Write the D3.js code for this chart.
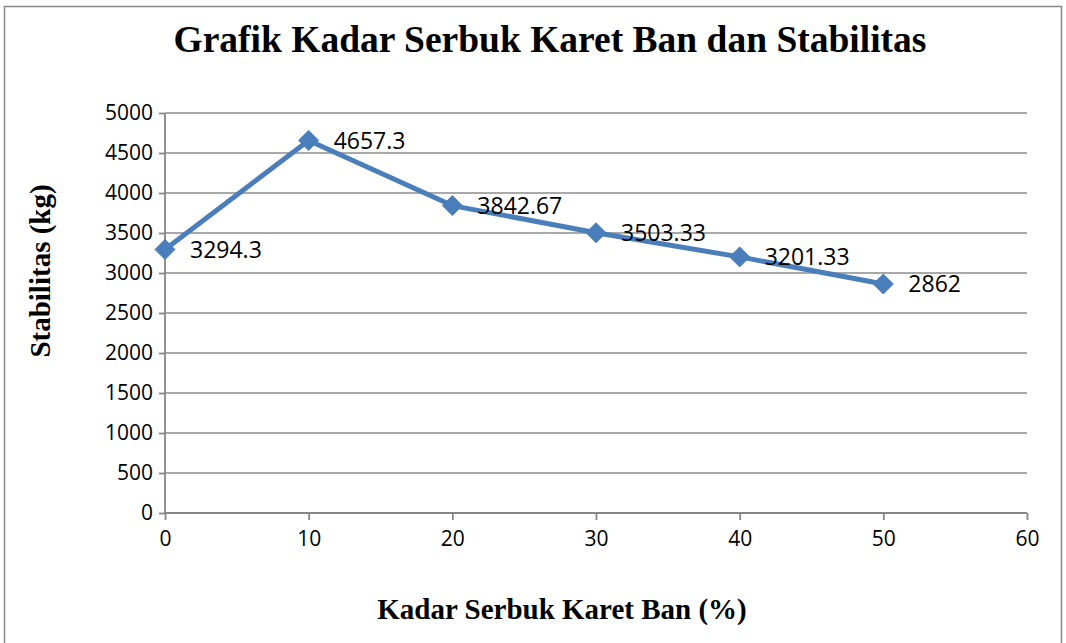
<!DOCTYPE html>
<html>
<head>
<meta charset="utf-8">
<script src="https://cdn.jsdelivr.net/npm/d3@7"></script>
<style>
  body { margin: 0; background: #fff; }
  svg { display: block; }
</style>
</head>
<body>
<svg id="chart" width="1066" height="643"></svg>
<script>
// data
var kadar = [0, 10, 20, 30, 40, 50];
var stabilitas = [3294.3, 4657.3, 3842.67, 3503.33, 3201.33, 2862];
var labels = ["3294.3", "4657.3", "3842.67", "3503.33", "3201.33", "2862"];
var xTicks = [0, 10, 20, 30, 40, 50, 60];
var yTicks = [0, 500, 1000, 1500, 2000, 2500, 3000, 3500, 4000, 4500, 5000];

var svg = d3.select("#chart");
var plotLeft = 165, plotRight = 1027, plotTop = 113, plotBottom = 513;

var x = d3.scaleLinear().domain([0, 60]).range([plotLeft, plotRight]);
var y = d3.scaleLinear().domain([0, 5000]).range([plotBottom, plotTop]);

var tickFont = "'Open Sans', 'Noto Sans', sans-serif";
var serif = "'Liberation Serif', 'DejaVu Serif', serif";

// outer frame
svg.append("rect")
    .attr("x", 4.5).attr("y", 6.5)
    .attr("width", 1057).attr("height", 650)
    .attr("fill", "none").attr("stroke", "#888").attr("stroke-width", 1.5);

// gridlines
svg.append("g").selectAll("line")
    .data(yTicks.slice(1)).enter().append("line")
    .attr("x1", plotLeft).attr("x2", plotRight)
    .attr("y1", function(d) { return y(d); }).attr("y2", function(d) { return y(d); })
    .attr("stroke", "#8c8c8c").attr("stroke-width", 1.3);

// axes
var yAxis = d3.axisLeft(y).tickValues(yTicks).tickSize(6).tickPadding(6).tickFormat(d3.format("d"));
var gy = svg.append("g").attr("transform", "translate(" + plotLeft + ",0)").call(yAxis);
var xAxis = d3.axisBottom(x).tickValues(xTicks).tickSize(7).tickPadding(11).tickFormat(d3.format("d"));
var gx = svg.append("g").attr("transform", "translate(0," + plotBottom + ")").call(xAxis);

[gx, gy].forEach(function(g) {
    g.select(".domain").attr("stroke", "#868686").attr("stroke-width", 1.8);
    g.selectAll(".tick line").attr("stroke", "#868686").attr("stroke-width", 1.8);
    g.selectAll("text").attr("font-family", tickFont).attr("font-size", 21).attr("fill", "#000");
});
// plain domain lines without end caps
gy.select(".domain").attr("d", "M0," + plotBottom + "V" + plotTop);
gx.select(".domain").attr("d", "M" + plotLeft + ",0H" + plotRight);

// line
var line = d3.line()
    .x(function(d, i) { return x(kadar[i]); })
    .y(function(d) { return y(d); });

svg.append("path")
    .datum(stabilitas)
    .attr("d", line)
    .attr("fill", "none")
    .attr("stroke", "#4a7ebb")
    .attr("stroke-width", 5)
    .attr("stroke-linejoin", "round");

// diamond markers
svg.append("g").selectAll("path")
    .data(stabilitas).enter().append("path")
    .attr("transform", function(d, i) { return "translate(" + x(kadar[i]) + "," + y(d) + ")"; })
    .attr("d", "M0,-10L10,0L0,10L-10,0Z")
    .attr("fill", "#4a7ebb")
    .attr("stroke", "#4a7ebb").attr("stroke-width", 1);

// data labels
svg.append("g").selectAll("text")
    .data(stabilitas).enter().append("text")
    .attr("x", function(d, i) { return x(kadar[i]) + 25; })
    .attr("y", function(d) { return y(d) + 2; })
    .attr("dominant-baseline", "middle")
    .attr("font-family", tickFont).attr("font-size", 23)
    .text(function(d, i) { return labels[i]; });

// title
svg.append("text")
    .attr("x", 550).attr("y", 52)
    .attr("text-anchor", "middle")
    .attr("font-family", serif).attr("font-weight", "bold").attr("font-size", 37.5)
    .text("Grafik Kadar Serbuk Karet Ban dan Stabilitas");

// axis titles
svg.append("text")
    .attr("x", 562).attr("y", 619)
    .attr("text-anchor", "middle")
    .attr("font-family", serif).attr("font-weight", "bold").attr("font-size", 29)
    .text("Kadar Serbuk Karet Ban (%)");

svg.append("text")
    .attr("transform", "translate(50,271) rotate(-90)")
    .attr("text-anchor", "middle")
    .attr("font-family", serif).attr("font-weight", "bold").attr("font-size", 29)
    .text("Stabilitas (kg)");
</script>
</body>
</html>
